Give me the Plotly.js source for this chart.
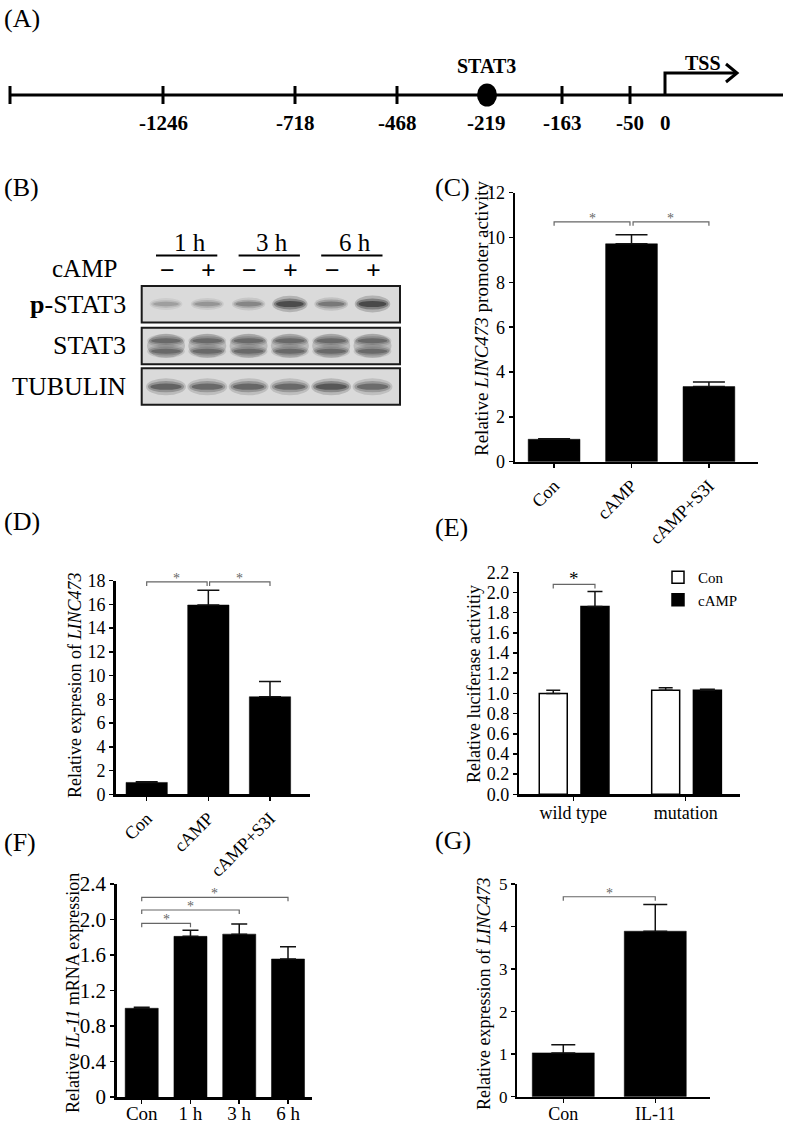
<!DOCTYPE html>
<html><head><meta charset="utf-8">
<script src="https://cdn.plot.ly/plotly-3.0.1.min.js"></script>
<style>html,body{margin:0;padding:0;background:#fff}#chart{width:787px;height:1124px}</style>
</head><body><div id="chart"></div>
<script>
// ================= DATA =================
// (A) promoter schematic
const siteLabels = ["", "-1246", "-718", "-468", "-219", "-163", "-50", "0"];
const stat3SiteIndex = 4;
const tssSiteIndex = 7;
const stat3Label = "STAT3";
const tssLabel = "TSS";
// (B) western blot
const blotTimes = ["1 h", "3 h", "6 h"];
const blotCamp = ["\u2212", "+", "\u2212", "+", "\u2212", "+"];
const blotRows = ["<b>p</b>-STAT3", "STAT3", "TUBULIN"];
const pstat3Intensity = [0.30, 0.36, 0.45, 0.92, 0.55, 0.97];
const stat3Intensity = [0.55, 0.55, 0.55, 0.55, 0.55, 0.55];
const tubulinIntensity = [0.72, 0.66, 0.68, 0.66, 0.82, 0.64];
// (C)
const cCats = ["Con", "cAMP", "cAMP+S3I"];
const cMean = [1.0, 9.72, 3.35];
const cErr = [0.02, 0.40, 0.20];
const cSig = [[0, 1, 10.7], [1, 2, 10.7]];
// (D)
const dCats = ["Con", "cAMP", "cAMP+S3I"];
const dMean = [1.0, 15.95, 8.22];
const dErr = [0.05, 1.25, 1.28];
const dSig = [[0, 1, 17.9], [1, 2, 17.9]];
// (E)
const eGroups = ["wild type", "mutation"];
const eSeries = ["Con", "cAMP"];
const eCon = [1.0, 1.03];
const eConErr = [0.03, 0.025];
const eCamp = [1.86, 1.03];
const eCampErr = [0.15, 0.01];
const eSigHeight = 2.08;
// (F)
const fCats = ["Con", "1 h", "3 h", "6 h"];
const fMean = [1.0, 1.81, 1.835, 1.555];
const fErr = [0.012, 0.068, 0.115, 0.138];
const fTickVals = [0, 0.4, 0.8, 1.2, 1.6, 2.0, 2.4];
const fTickText = ["0", "0.4", "0.8", "1.2", "1.6", "2.0", "2.4"];
const fSig = [[0, 1, 1.957], [0, 2, 2.107], [0, 3, 2.25]];
// (G)
const gCats = ["Con", "IL-11"];
const gMean = [1.03, 3.89];
const gErr = [0.19, 0.63];
const gSig = [[0, 1, 4.7]];

// ================= LAYOUT HELPERS =================
const W = 787, H = 1124;
const SERIF = 'Liberation Serif';
const px = v => v / W;
const py = v => 1 - v / H;
const shapes = [];
const annotations = [];
const traces = [];

function ann(x, y, text, opts) {
  annotations.push(Object.assign({
    x: px(x), y: py(y), xref: 'paper', yref: 'paper', text: text, showarrow: false,
    xanchor: 'center', yanchor: 'middle',
    font: {family: SERIF, size: 18, color: '#000'}
  }, opts || {}));
}
function pline(x0, y0, x1, y1, w, c) {
  shapes.push({type: 'line', xref: 'paper', yref: 'paper', x0: px(x0), y0: py(y0), x1: px(x1), y1: py(y1),
    line: {color: c || '#000', width: w}});
}
function ppath(pts, w, c) {
  const d = pts.map((p, i) => (i ? 'L' : 'M') + px(p[0]) + ',' + py(p[1])).join(' ');
  shapes.push({type: 'path', xref: 'paper', yref: 'paper', path: d, line: {color: c || '#000', width: w}});
}
function pellipse(cx, cy, w, h, color, op) {
  shapes.push({type: 'circle', xref: 'paper', yref: 'paper', x0: px(cx - w / 2), x1: px(cx + w / 2),
    y0: py(cy + h / 2), y1: py(cy - h / 2), fillcolor: color, opacity: op, line: {width: 0}});
}

// panel labels
[["(A)", 2, 18], ["(B)", 2, 187], ["(C)", 433, 187], ["(D)", 2, 521], ["(E)", 433, 527], ["(F)", 2, 842], ["(G)", 433, 840]]
  .forEach(l => ann(l[1], l[2], l[0], {xanchor: 'left', font: {family: SERIF, size: 26, color: '#000'}}));

// ================= (A) schematic =================
const siteX = [10, 163, 295, 397, 487, 562, 630, 665];   // schematic (not to scale) layout positions
const lineY = 95;
pline(10, lineY, 783, lineY, 3);
siteLabels.forEach((lab, i) => {
  if (i !== stat3SiteIndex && i !== tssSiteIndex) pline(siteX[i], lineY - 9, siteX[i], lineY + 9, 3);
  if (lab) ann(siteX[i], 123, '<b>' + lab + '</b>', {font: {family: SERIF, size: 21, color: '#000'}});
});
pellipse(siteX[stat3SiteIndex], lineY, 20, 23, '#000', 1);
ann(siteX[stat3SiteIndex], 66, '<b>' + stat3Label + '</b>', {font: {family: SERIF, size: 20, color: '#000'}});
const tx = siteX[tssSiteIndex];
ppath([[tx, lineY], [tx, 73], [tx + 72, 73]], 3);
ppath([[tx + 61, 64], [tx + 72, 73], [tx + 61, 82]], 3);
ann(tx + 38, 63, '<b>' + tssLabel + '</b>', {font: {family: SERIF, size: 20, color: '#000'}});

// ================= (B) western blot =================
const laneX0 = 166, laneStep = 41.3;
const laneX = i => laneX0 + i * laneStep;
const blotLeft = 141.7, blotRight = 400;
const rowTops = [286, 327.7, 368.3], rowH = 36.5;
blotTimes.forEach((t, k) => {
  const a = laneX(2 * k), b = laneX(2 * k + 1);
  ann((a + b) / 2 + 3, 243, t, {font: {family: SERIF, size: 25, color: '#000'}});
  pline(a - 10, 255.5, b + 10, 255.5, 2.2);
});
ann(119, 268, 'cAMP', {xanchor: 'right', font: {family: SERIF, size: 25, color: '#000'}});
blotCamp.forEach((s, i) => ann(laneX(i) + 1, 270, '<b>' + s + '</b>', {font: {family: SERIF, size: 26, color: '#000'}}));
blotRows.forEach((r, j) => {
  ann(128, rowTops[j] + rowH / 2, r, {xanchor: 'right', font: {family: SERIF, size: 26, color: '#000'}});
  shapes.push({type: 'rect', xref: 'paper', yref: 'paper', x0: px(blotLeft), x1: px(blotRight),
    y0: py(rowTops[j] + rowH), y1: py(rowTops[j]), fillcolor: '#dadada', line: {color: '#1a1a1a', width: 2}});
});
function band(cx, cy, w, h, I) {
  pellipse(cx, cy, w * 1.05, h * 1.9, '#1a1a1a', 0.22 * I);
  pellipse(cx, cy, w * 0.95, h * 1.25, '#1a1a1a', 0.35 * I);
  pellipse(cx, cy, w * 0.82, h * 0.7, '#1a1a1a', 0.55 * I);
}
pstat3Intensity.forEach((I, i) => band(laneX(i), rowTops[0] + 18, 30 + 4 * I, 5 + 4 * I, I));
stat3Intensity.forEach((I, i) => {
  pellipse(laneX(i), rowTops[1] + 18, 38, 24, '#1a1a1a', 0.3 * I);
  band(laneX(i), rowTops[1] + 13, 36, 7, I);
  band(laneX(i), rowTops[1] + 23.5, 36, 7, I);
});
tubulinIntensity.forEach((I, i) => band(laneX(i), rowTops[2] + 18.4, 38, 9, I));

// ================= BAR PANELS =================
const layout = {
  width: W, height: H, margin: {l: 0, r: 0, t: 0, b: 0},
  paper_bgcolor: '#fff', plot_bgcolor: 'rgba(0,0,0,0)',
  barmode: 'overlay', showlegend: true,
  font: {family: SERIF, color: '#000'},
  legend: {x: px(658), y: py(561), xanchor: 'left', yanchor: 'top', bgcolor: 'rgba(0,0,0,0)',
    font: {family: SERIF, size: 15, color: '#000'}, tracegroupgap: 0, itemwidth: 30}
};

function setupAxes(id, cfg) {
  const xn = 'xaxis' + (id === 1 ? '' : id), yn = 'yaxis' + (id === 1 ? '' : id);
  const xr = 'x' + (id === 1 ? '' : id), yr = 'y' + (id === 1 ? '' : id);
  const common = {showgrid: false, zeroline: false, showline: true, linecolor: '#000', linewidth: 2.5,
    ticks: 'outside', ticklen: 4, tickwidth: 1.5, tickcolor: '#000', fixedrange: true};
  layout[xn] = Object.assign({}, common, {
    domain: [px(cfg.xd[0]), px(cfg.xd[1])], range: cfg.xrange, anchor: yr,
    tickmode: 'array', tickvals: cfg.cats.map((_, i) => i), ticktext: cfg.cats,
    tickangle: cfg.angle || 0, tickfont: {family: SERIF, size: cfg.xfont || 18, color: '#000'},
    ticklabelstandoff: cfg.xstandoff || 0
  });
  const yax = Object.assign({}, common, {
    domain: [py(cfg.yd[1]), py(cfg.yd[0])], range: cfg.yrange, anchor: xr,
    tickfont: {family: SERIF, size: cfg.yfont || 18, color: '#000'}
  });
  if (cfg.tickvals) { yax.tickmode = 'array'; yax.tickvals = cfg.tickvals; yax.ticktext = cfg.ticktext; }
  else { yax.dtick = cfg.dtick; yax.tick0 = 0; if (cfg.tickformat) yax.tickformat = cfg.tickformat; }
  layout[yn] = yax;
  // y title
  ann(cfg.title[0], cfg.title[1], cfg.title[2], {textangle: -90, font: {family: SERIF, size: cfg.titleSize || 18, color: '#000'}});
  const pxPerUnit = (cfg.yd[1] - cfg.yd[0]) / (cfg.yrange[1] - cfg.yrange[0]);
  return {xr, yr, leg: 4 / pxPerUnit};
}
function barTrace(ax, cats, mean, err, width, capw, extra) {
  return Object.assign({
    type: 'bar', x: cats.map((_, i) => i), y: mean, width: width, xaxis: ax.xr, yaxis: ax.yr,
    marker: {color: '#000', line: {color: '#000', width: 0.5}}, showlegend: false, hoverinfo: 'skip',
    error_y: {type: 'data', symmetric: false, array: err, arrayminus: err.map(() => 0),
      color: '#111', thickness: 1.5, width: capw}
  }, extra || {});
}
function brackets(ax, sig, centers, starSize, starColor, starShift) {
  sig.forEach(s => {
    const adjL = (sig.length > 1 && sig.some(o => o !== s && o[0] === s[1])) ? -0.02 : 0;
    const adjR = (sig.length > 1 && sig.some(o => o !== s && o[1] === s[0])) ? 0.02 : 0;
    const x0 = centers(s[0]) + adjR, x1 = centers(s[1]) + adjL, y = s[2];
    shapes.push({type: 'path', xref: ax.xr, yref: ax.yr,
      path: `M${x0},${y - ax.leg} L${x0},${y} L${x1},${y} L${x1},${y - ax.leg}`,
      line: {color: '#666', width: 1.2}});
    annotations.push({x: (x0 + x1) / 2, y: y, xref: ax.xr, yref: ax.yr, text: '*', showarrow: false,
      yanchor: 'bottom', yshift: starShift, font: {family: SERIF, size: starSize, color: starColor}});
  });
}
const idx = i => i;

// (C)
const axC = setupAxes(1, {xd: [515, 758], yd: [192.7, 461.7], xrange: [-0.505, 2.634], yrange: [0, 12], dtick: 2,
  cats: cCats, angle: -45, title: [481, 319, 'Relative <i>LINC473</i> promoter activity'], titleSize: 19});
traces.push(barTrace(axC, cCats, cMean, cErr, 0.669, 16));
brackets(axC, cSig, idx, 14, '#666', -6);

// (D)
const axD = setupAxes(2, {xd: [115.5, 310], yd: [580.7, 794.3], xrange: [-0.506, 2.649], yrange: [0, 18], dtick: 2,
  cats: dCats, angle: -45, title: [75, 686, 'Relative expresion of <i>LINC473</i>']});
traces.push(barTrace(axD, dCats, dMean, dErr, 0.67, 11));
brackets(axD, dSig, idx, 14, '#666', -6);

// (E)
const axE = setupAxes(3, {xd: [519.3, 740], yd: [572.3, 794.3], xrange: [-0.48, 1.483], yrange: [0, 2.2], dtick: 0.2,
  tickformat: '.1f', cats: eGroups, title: [474, 684, 'Relative luciferase activitiy'], xstandoff: -3});
const eW = 0.249, eOff = [-0.3025, 0.0685];
traces.push(barTrace(axE, eGroups, eCon, eConErr, eW, 7,
  {offset: eOff[0], name: eSeries[0], showlegend: true, marker: {color: '#fff', line: {color: '#000', width: 1.5}}}));
traces.push(barTrace(axE, eGroups, eCamp, eCampErr, eW, 7.5,
  {offset: eOff[1], name: eSeries[1], showlegend: true, marker: {color: '#000', line: {color: '#000', width: 1.5}}}));
brackets(axE, [[0, 1, eSigHeight]], k => eOff[k] + eW / 2, 19, '#000', -7);

// (F)
const axF = setupAxes(4, {xd: [116.7, 311.7], yd: [884, 1097], xrange: [-0.513, 3.486], yrange: [0, 2.4],
  tickvals: fTickVals, ticktext: fTickText, yfont: 21, xfont: 19, cats: fCats, xstandoff: -6,
  title: [73, 993, 'Relative <i>IL-11</i> mRNA expression']});
traces.push(barTrace(axF, fCats, fMean, fErr, 0.678, 8));
brackets(axF, fSig, idx, 14, '#666', -6);

// (G)
const axG = setupAxes(5, {xd: [517.3, 710], yd: [884, 1096.7], xrange: [-0.5, 1.595], yrange: [0, 5], dtick: 1,
  yfont: 17, cats: gCats, xstandoff: -5, title: [484, 993, 'Relative expression of <i>LINC473</i>']});
traces.push(barTrace(axG, gCats, gMean, gErr, 0.674, 12));
brackets(axG, gSig, idx, 14, '#666', -6);

layout.shapes = shapes;
layout.annotations = annotations;
Plotly.newPlot('chart', traces, layout, {staticPlot: true, displayModeBar: false});
</script>
</body></html>
